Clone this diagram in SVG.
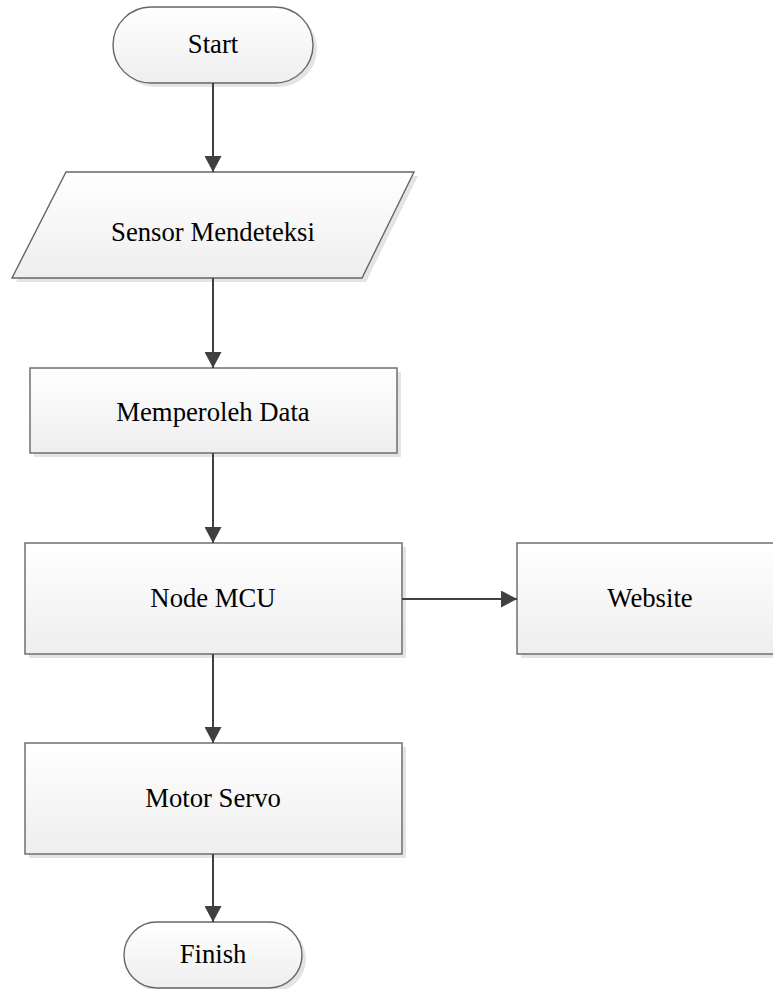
<svg xmlns="http://www.w3.org/2000/svg" width="773" height="989" viewBox="0 0 773 989">
<style>
.shape{fill:url(#g);stroke:#666;stroke-width:1.4}
.shadow{fill:#e4e4e4;stroke:none}
.t{font-family:'Liberation Serif','DejaVu Serif',serif;font-size:26.7px;fill:#000;text-anchor:middle}
.c{stroke:#404040;stroke-width:2;fill:none;marker-end:url(#ah)}
</style>
<defs>
<linearGradient id="g" x1="0" y1="0" x2="0" y2="1">
<stop offset="0" stop-color="#ffffff"/>
<stop offset="1" stop-color="#eeeeee"/>
</linearGradient>
<marker id="ah" markerWidth="16" markerHeight="17" refX="16" refY="8.5" orient="auto" markerUnits="userSpaceOnUse">
<path d="M0,0 L16,8.5 L0,17 Z" fill="#404040"/>
</marker>
</defs>
<rect width="773" height="989" fill="#fff"/>
<g id="start">
<rect class="shadow" x="117" y="11" width="200" height="76" rx="38"/>
<rect class="shape" x="113" y="7" width="200" height="76" rx="38"/>
<text class="t" font-family="Liberation Serif, serif" x="213" y="53">Start</text>
</g>
<g id="sensor">
<polygon class="shadow" points="70,176 418,176 366,282 16,282"/>
<polygon class="shape" points="66,172 414,172 362,278 12,278"/>
<text class="t" font-family="Liberation Serif, serif" x="213" y="241">Sensor Mendeteksi</text>
</g>
<g id="data">
<rect class="shadow" x="34" y="372" width="367" height="85"/>
<rect class="shape" x="30" y="368" width="367" height="85"/>
<text class="t" font-family="Liberation Serif, serif" x="213" y="421">Memperoleh Data</text>
</g>
<g id="nodemcu">
<rect class="shadow" x="29" y="547" width="377" height="111"/>
<rect class="shape" x="25" y="543" width="377" height="111"/>
<text class="t" font-family="Liberation Serif, serif" x="213" y="607">Node MCU</text>
</g>
<g id="website">
<rect class="shadow" x="521" y="547" width="266" height="111"/>
<rect class="shape" x="517" y="543" width="266" height="111"/>
<text class="t" font-family="Liberation Serif, serif" x="650" y="607">Website</text>
</g>
<g id="servo">
<rect class="shadow" x="29" y="747" width="377" height="111"/>
<rect class="shape" x="25" y="743" width="377" height="111"/>
<text class="t" font-family="Liberation Serif, serif" x="213" y="807">Motor Servo</text>
</g>
<g id="finish">
<rect class="shadow" x="128" y="926" width="178" height="66" rx="33"/>
<rect class="shape" x="124" y="922" width="178" height="66" rx="33"/>
<text class="t" font-family="Liberation Serif, serif" x="213" y="963">Finish</text>
</g>
<g id="connectors">
<line class="c" x1="213" y1="83" x2="213" y2="172"/>
<line class="c" x1="213" y1="278" x2="213" y2="368"/>
<line class="c" x1="213" y1="453" x2="213" y2="543"/>
<line class="c" x1="402" y1="599" x2="517" y2="599"/>
<line class="c" x1="213" y1="654" x2="213" y2="743"/>
<line class="c" x1="213" y1="854" x2="213" y2="922"/>
</g>
</svg>
